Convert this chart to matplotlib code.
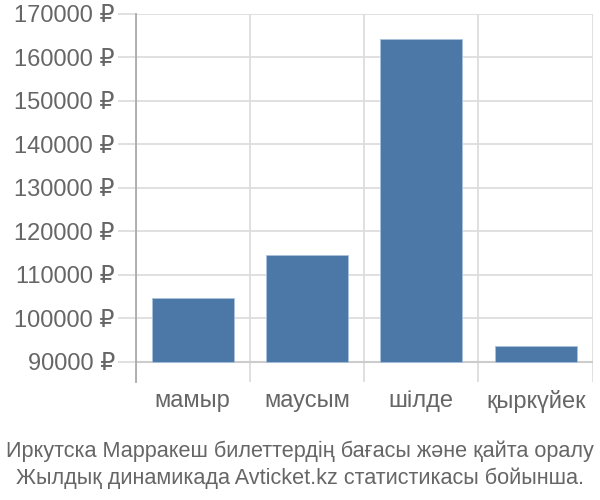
import matplotlib.pyplot as plt
from matplotlib.ticker import FixedLocator

months = ['мамыр', 'маусым', 'шілде', 'қыркүйек']
prices = [104600, 114550, 164300, 93550]
yticks = [90000, 100000, 110000, 120000, 130000, 140000, 150000, 160000, 170000]
caption = ('Иркутска Марракеш билеттердің бағасы және қайта оралу\n'
           'Жылдық динамикада Avticket.kz статистикасы бойынша.')

plt.rcParams['font.family'] = ['Liberation Sans', 'DejaVu Sans']

fig = plt.figure(figsize=(6, 5), dpi=100)
ax = fig.add_axes([0.226, 0.2366, 0.762, 0.7354])

x = list(range(len(months)))
base = yticks[0]
heights = [p - base for p in prices]
ax.bar(x, heights, bottom=base, width=0.72, color='#4c78a8',
       edgecolor='#a9c1dc', linewidth=0.6, zorder=3)

ax.set_xlim(-0.5, len(months) - 0.5)
ax.set_ylim(85400, 170000)
ax.set_yticks(yticks)
ax.set_yticklabels([f'{t} ₽' for t in yticks])
ax.set_xticks(x)
ax.set_xticklabels(months)
ax.xaxis.set_minor_locator(FixedLocator([i - 0.5 for i in range(len(months) + 1)]))

ax.grid(axis='y', which='major', color='#dddddd', linewidth=1.3, zorder=0)
ax.grid(axis='x', which='minor', color='#dddddd', linewidth=1.3, zorder=0)
ax.axhline(base, color='#cccccc', linewidth=1.5, zorder=2)

for s in ['top', 'right', 'bottom']:
    ax.spines[s].set_visible(False)
ax.spines['left'].set_color('#aaaaaa')
ax.spines['left'].set_linewidth(1.3)

ax.tick_params(axis='y', length=13, width=1.3, color='#dddddd', pad=2,
               labelsize=17, labelcolor='#666666')
ax.tick_params(axis='x', which='major', length=0, pad=6,
               labelsize=17, labelcolor='#666666')
ax.tick_params(axis='x', which='minor', length=0)

fig.text(0.5, 0.07, caption, ha='center', va='center', fontsize=15.6,
         color='#666666', linespacing=1.35, multialignment='center')

fig.savefig('out.png', dpi=100)
